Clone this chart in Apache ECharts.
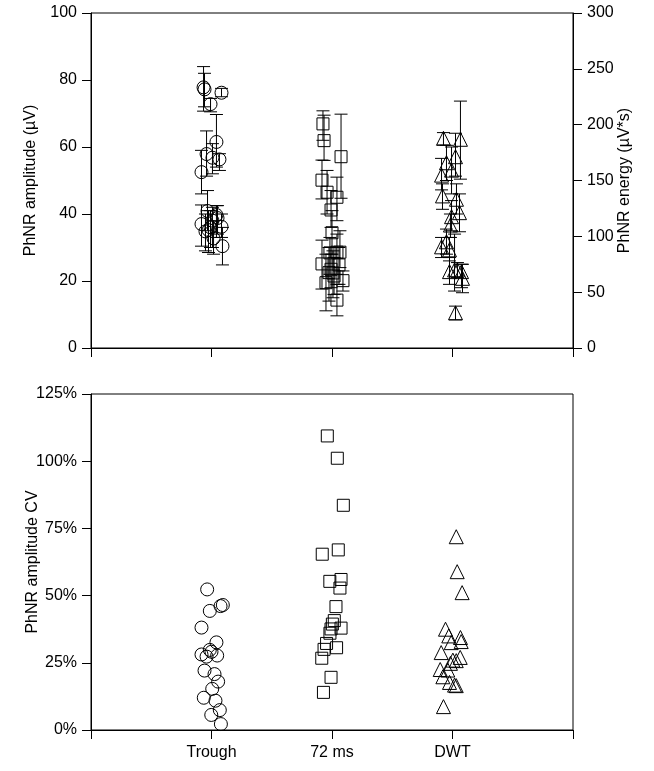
<!DOCTYPE html>
<html><head><meta charset="utf-8">
<script src="https://cdn.jsdelivr.net/npm/echarts@6/dist/echarts.min.js"></script>
<style>html,body{margin:0;padding:0;background:#fff}#c{width:654px;height:771px}</style>
</head><body><div id="c"></div>
<script>
// Category tick labels (x positions 1,2,3)
const categories = ['Trough', '72 ms', 'DWT'];
const ampTicks = [0, 20, 40, 60, 80, 100];
const energyTicks = [0, 50, 100, 150, 200, 250, 300];

// Top panel: PhNR amplitude (µV) — jittered x, value, error low, error high
const troughX   = [0.934,0.942,1.083,0.992,1.041,0.959,1.008,1.066,0.917,0.967,0.917,1.041,1.050,1.008,0.992,0.975,1.083,1.017,1.091,0.950];
const troughAmp = [77.8,77.2,76.2,72.8,61.5,57.9,56.8,56.3,52.5,40.9,37.0,39.7,38.8,38.0,36.0,35.2,36.2,32.7,30.4,34.8];
const troughLo  = [70.7,72.0,75.0,70.5,54.0,51.3,52.0,53.0,46.0,35.0,30.4,33.0,34.0,30.0,30.0,28.5,33.0,28.0,24.8,29.0];
const troughHi  = [84.0,82.0,77.5,74.5,69.7,64.8,61.0,58.0,59.0,47.0,42.7,42.5,42.5,42.0,41.0,41.0,40.0,38.0,36.0,40.0];

const ms72X   = [1.925,1.934,2.075,1.917,1.959,2.041,1.992,2.000,2.066,2.041,1.983,1.917,2.058,1.975,2.008,2.017,1.950,2.091,2.041,1.992];
const ms72Amp = [66.9,61.9,57.1,50.1,46.5,45.0,41.2,34.4,28.6,28.6,28.4,25.1,24.8,22.5,22.4,21.5,19.5,20.1,14.3,23.5];
const ms72Lo  = [62.0,56.0,44.7,44.5,40.0,38.0,36.0,28.0,24.0,22.0,22.0,17.6,19.0,14.0,15.0,16.0,11.1,17.0,9.6,18.0];
const ms72Hi  = [70.8,69.5,69.8,56.1,53.0,51.0,47.0,41.0,35.0,34.0,33.0,32.2,30.0,30.0,29.0,27.0,28.0,23.0,19.0,28.0];

const dwtX   = [2.925,3.066,3.025,2.950,2.992,2.909,2.917,3.033,3.058,2.992,2.983,2.950,2.909,2.975,2.975,3.017,3.041,3.075,3.083,3.025];
const dwtAmp = [62.6,62.3,57.1,55.3,53.1,51.6,45.4,44.4,40.4,39.2,36.7,31.7,30.2,29.3,22.8,23.3,23.3,22.8,20.8,10.5];
const dwtLo  = [60.6,50.4,51.3,50.0,46.0,47.2,41.4,40.0,34.7,35.0,33.0,28.0,27.0,26.0,19.0,17.0,21.0,18.0,16.5,8.4];
const dwtHi  = [64.3,73.7,64.1,60.5,60.0,56.6,49.0,49.0,46.0,44.0,40.0,35.5,33.0,33.0,27.0,34.0,25.5,25.0,25.0,12.5];

// Bottom panel: PhNR amplitude CV (%)
const troughCvX = [0.964,0.986,1.075,1.094,0.917,1.041,0.986,1.000,0.917,0.959,1.047,0.942,1.025,1.055,1.006,0.936,1.033,1.069,0.998,1.078];
const troughCv  = [52.3,44.3,46.1,46.5,38.1,32.6,29.8,29.1,28.1,27.3,27.7,22.1,20.8,18.0,15.3,12.0,10.9,7.4,5.6,2.2];
const ms72CvX = [1.961,2.044,2.094,1.919,2.052,1.982,2.075,2.066,2.033,2.019,2.003,1.992,2.075,1.983,1.955,2.038,1.934,1.915,1.992,1.929];
const ms72Cv  = [109.4,101.1,83.6,65.4,67.0,55.3,56.0,52.8,45.9,40.7,39.4,37.6,37.9,36.0,32.2,30.6,30.0,26.7,19.6,14.0];
const dwtCvX = [3.031,3.039,3.080,2.942,2.969,3.066,3.072,2.989,2.906,3.064,3.003,3.031,2.983,2.898,2.961,2.920,2.975,3.017,3.031,2.925];
const dwtCv  = [71.9,58.9,51.1,37.5,35.0,34.4,32.9,32.5,28.8,27.0,26.0,25.8,24.8,22.5,22.3,19.8,17.7,16.7,16.5,8.7];

const FONT = '"Liberation Sans", Arial, sans-serif';
const pts = (xs, ys) => xs.map((x, i) => [x, ys[i]]);
const errs = (xs, lo, hi) => xs.map((x, i) => [x, lo[i], hi[i]]);

function errSeries(data) {
  return {
    type: 'custom', xAxisIndex: 0, yAxisIndex: 0, z: 2, silent: true,
    renderItem: function (params, api) {
      const x = api.value(0);
      const lo = api.coord([x, api.value(1)]);
      const hi = api.coord([x, api.value(2)]);
      const w = 6.5;
      const st = { stroke: '#000', lineWidth: 1 };
      return { type: 'group', children: [
        { type: 'line', shape: { x1: lo[0], y1: lo[1], x2: hi[0], y2: hi[1] }, style: st },
        { type: 'line', shape: { x1: lo[0] - w, y1: lo[1], x2: lo[0] + w, y2: lo[1] }, style: st },
        { type: 'line', shape: { x1: hi[0] - w, y1: hi[1], x2: hi[0] + w, y2: hi[1] }, style: st }
      ]};
    },
    encode: { x: 0, y: [1, 2] },
    data: data
  };
}
function scat(data, symbol, size, xi, yi) {
  return {
    type: 'scatter', xAxisIndex: xi, yAxisIndex: yi, z: 3, silent: true,
    symbol: symbol, symbolSize: size,
    itemStyle: { color: 'rgba(0,0,0,0)', borderColor: '#000', borderWidth: 1, opacity: 1 },
    data: data
  };
}

const xBase = {
  type: 'value', min: 0, max: 4, interval: 1,
  axisLine: { lineStyle: { color: '#000', width: 1 } },
  axisTick: { length: 9, lineStyle: { color: '#000' } },
  splitLine: { show: false }
};
const yLabel = { color: '#000', fontSize: 16, fontFamily: FONT, margin: 14 };
const yName = { color: '#000', fontSize: 16, fontFamily: FONT };
const yTick = { show: true, length: 9, lineStyle: { color: '#000' } };

const option = {
  animation: false,
  backgroundColor: '#fff',
  grid: [
    { left: 91, top: 13, width: 482, height: 335, show: true, borderColor: '#000', borderWidth: 1, backgroundColor: 'transparent' },
    { left: 91, top: 394, width: 482, height: 336, show: true, borderColor: '#000', borderWidth: 1, backgroundColor: 'transparent' }
  ],
  xAxis: [
    Object.assign({}, xBase, { gridIndex: 0, axisLabel: { show: false } }),
    Object.assign({}, xBase, { gridIndex: 1, axisLabel: {
      color: '#000', fontSize: 16, fontFamily: FONT, margin: 15,
      formatter: v => (v >= 1 && v <= 3) ? categories[v - 1] : ''
    } })
  ],
  yAxis: [
    { type: 'value', gridIndex: 0, min: ampTicks[0], max: ampTicks[ampTicks.length - 1], interval: 20,
      name: 'PhNR amplitude (\u00B5V)', nameLocation: 'middle', nameGap: 52, nameRotate: 90, nameTextStyle: yName,
      nameMoveOverlap: false,
      axisLine: { show: true, lineStyle: { color: '#000' } }, axisTick: yTick,
      axisLabel: yLabel, splitLine: { show: false } },
    { type: 'value', gridIndex: 0, position: 'right', min: energyTicks[0], max: energyTicks[energyTicks.length - 1], interval: 50,
      name: 'PhNR energy (\u00B5V*s)', nameLocation: 'middle', nameGap: 44, nameRotate: 90, nameTextStyle: yName,
      nameMoveOverlap: false,
      axisLine: { show: true, lineStyle: { color: '#000' } }, axisTick: yTick,
      axisLabel: yLabel, splitLine: { show: false } },
    { type: 'value', gridIndex: 1, min: 0, max: 125, interval: 25,
      name: 'PhNR amplitude CV', nameLocation: 'middle', nameGap: 50, nameRotate: 90, nameTextStyle: yName,
      nameMoveOverlap: false,
      axisLine: { show: true, lineStyle: { color: '#000' } }, axisTick: yTick,
      axisLabel: Object.assign({}, yLabel, { formatter: '{value}%' }), splitLine: { show: false } }
  ],
  series: [
    errSeries(errs(troughX, troughLo, troughHi)),
    errSeries(errs(ms72X, ms72Lo, ms72Hi)),
    errSeries(errs(dwtX, dwtLo, dwtHi)),
    scat(pts(troughX, troughAmp), 'circle', 13, 0, 0),
    scat(pts(ms72X, ms72Amp), 'rect', 12, 0, 0),
    scat(pts(dwtX, dwtAmp), 'triangle', 14, 0, 0),
    scat(pts(troughCvX, troughCv), 'circle', 13, 1, 2),
    scat(pts(ms72CvX, ms72Cv), 'rect', 12, 1, 2),
    scat(pts(dwtCvX, dwtCv), 'triangle', 14, 1, 2)
  ]
};
const chart = echarts.init(document.getElementById('c'), null, { renderer: 'canvas' });
chart.setOption(option);
</script></body></html>
